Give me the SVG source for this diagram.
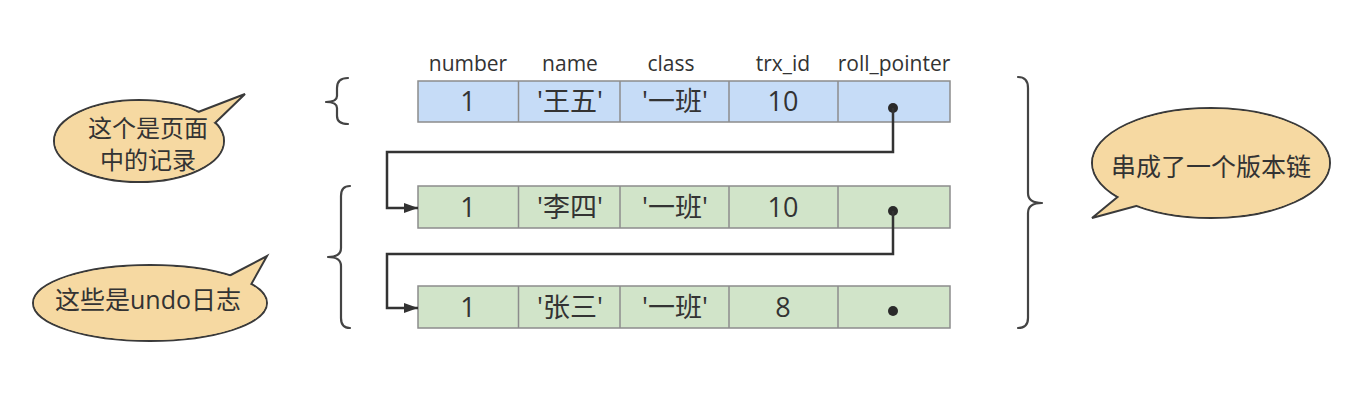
<svg xmlns="http://www.w3.org/2000/svg" width="1366" height="406" viewBox="0 0 1366 406">
<style>
.hdr{font-family:"Open Sans","Noto Sans CJK SC",sans-serif;font-size:21px;fill:#333;text-anchor:middle}
.cell{font-family:"Open Sans","Noto Sans CJK SC",sans-serif;font-size:27px;fill:#333;text-anchor:middle}
.bt{font-family:"Open Sans","Noto Sans CJK SC",sans-serif;font-size:25px;fill:#333;text-anchor:middle}
.bt2{font-family:"Open Sans","Noto Sans CJK SC",sans-serif;font-size:24px;fill:#333;text-anchor:middle}
.blue{fill:#c6dcf7;stroke:#8c8c8c;stroke-width:1.5}
.green{fill:#d1e4c9;stroke:#8c8c8c;stroke-width:1.5}
.div{stroke:#8c8c8c;stroke-width:1.5}
.bub{fill:#f6d9a2;stroke:#3a3a3a;stroke-width:2;stroke-linejoin:miter}
.bubin{fill:#f6d9a2;stroke:none}
.brace{fill:none;stroke:#444;stroke-width:2.2;stroke-linecap:round;stroke-linejoin:round}
.conn{fill:none;stroke:#333;stroke-width:2.5}
.dot{fill:#2a2a2a}
</style>
<defs>
<marker id="arr" viewBox="0 0 14 10" refX="14" refY="5" markerWidth="14" markerHeight="10" markerUnits="userSpaceOnUse" orient="auto">
<path d="M0,0 L14,5 L0,10 Z" fill="#333"/>
</marker>
</defs>
<rect width="1366" height="406" fill="#fff"/>

<g id="headers">
<text class="hdr" x="468" y="71">number</text>
<text class="hdr" x="570" y="71">name</text>
<text class="hdr" x="671" y="71">class</text>
<text class="hdr" x="783" y="71">trx_id</text>
<text class="hdr" x="894" y="71">roll_pointer</text>
</g>

<g id="row1">
<rect class="blue" x="418" y="81" width="532" height="41"/>
<line class="div" x1="518.5" y1="81" x2="518.5" y2="122"/>
<line class="div" x1="620" y1="81" x2="620" y2="122"/>
<line class="div" x1="729" y1="81" x2="729" y2="122"/>
<line class="div" x1="838" y1="81" x2="838" y2="122"/>
<text class="cell" x="468" y="111">1</text>
<text class="cell" x="570" y="111">'王五'</text>
<text class="cell" x="675" y="111">'一班'</text>
<text class="cell" x="783" y="111">10</text>
<circle class="dot" cx="893" cy="108" r="5"/>
</g>

<g id="row2">
<rect class="green" x="418" y="186" width="532" height="42"/>
<line class="div" x1="518.5" y1="186" x2="518.5" y2="228"/>
<line class="div" x1="620" y1="186" x2="620" y2="228"/>
<line class="div" x1="729" y1="186" x2="729" y2="228"/>
<line class="div" x1="838" y1="186" x2="838" y2="228"/>
<text class="cell" x="468" y="217">1</text>
<text class="cell" x="570" y="217">'李四'</text>
<text class="cell" x="675" y="217">'一班'</text>
<text class="cell" x="783" y="217">10</text>
<circle class="dot" cx="893" cy="211" r="5"/>
</g>

<g id="row3">
<rect class="green" x="418" y="286" width="532" height="42"/>
<line class="div" x1="518.5" y1="286" x2="518.5" y2="328"/>
<line class="div" x1="620" y1="286" x2="620" y2="328"/>
<line class="div" x1="729" y1="286" x2="729" y2="328"/>
<line class="div" x1="838" y1="286" x2="838" y2="328"/>
<text class="cell" x="468" y="317">1</text>
<text class="cell" x="570" y="317">'张三'</text>
<text class="cell" x="675" y="317">'一班'</text>
<text class="cell" x="783" y="317">8</text>
<circle class="dot" cx="893" cy="311" r="5"/>
</g>

<g id="connectors">
<path class="conn" d="M893,108 V152 H387 V208 H418" marker-end="url(#arr)"/>
<path class="conn" d="M893,211 V254 H387 V308 H418" marker-end="url(#arr)"/>
</g>

<g id="braces">
<path class="brace" d="M348,78 Q337,78 337,88 V96 Q337,102 326,102 Q337,102 337,108 V116 Q337,124 348,124"/>
<path class="brace" d="M350,186 Q341,186 341,196 V248 Q341,257 328,257 Q341,257 341,266 V318 Q341,328 350,328"/>
<path class="brace" d="M1018,77 Q1028,77 1028,88 V193 Q1028,203 1042,203 Q1028,203 1028,213 V318 Q1028,328 1018,328"/>
</g>

<g id="bubble-page">
<ellipse class="bub" cx="139" cy="141" rx="85" ry="41"/>
<polygon class="bub" points="193,114 245,94 214,124"/>
<ellipse class="bubin" cx="139" cy="141" rx="84" ry="40"/>
<text class="bt2" x="148" y="137">这个是页面</text>
<text class="bt2" x="148" y="169">中的记录</text>
</g>

<g id="bubble-undo">
<ellipse class="bub" cx="150" cy="303" rx="117" ry="38"/>
<polygon class="bub" points="225,278 267,256 248,290"/>
<ellipse class="bubin" cx="150" cy="303" rx="116" ry="37"/>
<text class="bt" x="148" y="309">这些是undo日志</text>
</g>

<g id="bubble-chain">
<ellipse class="bub" cx="1211" cy="163" rx="119" ry="55"/>
<polygon class="bub" points="1120,195 1092,218 1140,205"/>
<ellipse class="bubin" cx="1211" cy="163" rx="118" ry="54"/>
<text class="bt" x="1211" y="176">串成了一个版本链</text>
</g>
</svg>
